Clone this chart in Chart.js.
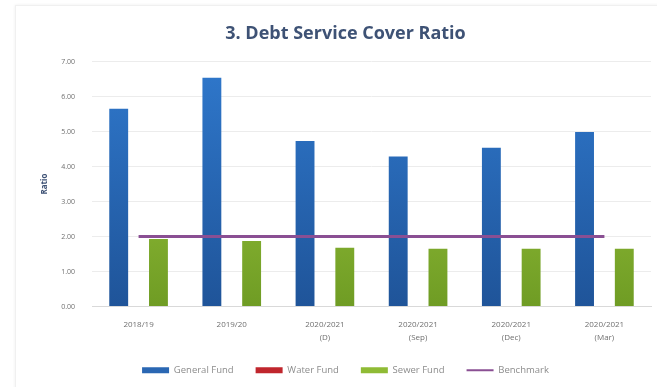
<!DOCTYPE html>
<html lang="en">
<head>
<meta charset="UTF-8">
<title>Debt Service Cover Ratio</title>
<style>
  html, body { margin: 0; padding: 0; background: #fff; }
  .wrap { position: relative; width: 657px; height: 387px; }
  .frame { position: absolute; left: 15px; top: 5px; width: 660px; height: 400px; border: 1px solid #f0f0f0; box-shadow: 0 0 3px #eee; }
  canvas { position: absolute; left: 0; top: 0; }
</style>
</head>
<body>
<div class="wrap">
  <div class="frame"></div>
  <canvas id="myChart" width="657" height="387"></canvas>
</div>
<script src="https://cdn.jsdelivr.net/npm/chart.js"></script>
<script>
// periods on the x axis
const periods = ['2018/19', '2019/20', ['2020/2021', '(D)'], ['2020/2021', '(Sep)'], ['2020/2021', '(Dec)'], ['2020/2021', '(Mar)']];
const generalFund = [5.65, 6.54, 4.73, 4.29, 4.54, 4.99];
const waterFund = [null, null, null, null, null, null];
const sewerFund = [1.93, 1.87, 1.68, 1.65, 1.65, 1.65];
const benchmark = [2, 2, 2, 2, 2, 2];
const yTicks = [0, 1, 2, 3, 4, 5, 6, 7];

function grad(ctx, top, bottom) {
  const c = ctx.chart;
  const a = c.chartArea;
  if (!a) return top;
  const g = c.ctx.createLinearGradient(0, a.top, 0, a.bottom);
  g.addColorStop(0, top);
  g.addColorStop(1, bottom);
  return g;
}

const legendFill = ['#2a67b3', '#c0262d', '#8fbb35'];

const ctx = document.getElementById('myChart');
new Chart(ctx, {
  type: 'bar',
  data: {
    labels: periods,
    datasets: [
      {
        label: 'General Fund',
        data: generalFund,
        backgroundColor: (c) => grad(c, '#2f78cc', '#1f5499'),
        order: 2
      },
      {
        label: 'Water Fund',
        data: waterFund,
        backgroundColor: '#c0262d',
        order: 2
      },
      {
        label: 'Sewer Fund',
        data: sewerFund,
        backgroundColor: (c) => grad(c, '#a6d043', '#6f9c24'),
        order: 2
      },
      {
        type: 'line',
        label: 'Benchmark',
        data: benchmark,
        borderColor: '#8a4f93',
        backgroundColor: '#8a4f93',
        borderWidth: 3,
        pointRadius: 0,
        order: 1
      }
    ]
  },
  options: {
    responsive: false,
    animation: false,
    layout: { padding: { left: 40, right: 6, top: 8, bottom: 2 } },
    datasets: {
      bar: { categoryPercentage: 0.64, barPercentage: 0.95 }
    },
    plugins: {
      title: {
        display: true,
        text: '3. Debt Service Cover Ratio',
        color: '#3e5275',
        font: { family: 'Open Sans', size: 18, weight: 'bold' },
        padding: { top: 15, bottom: 17 }
      },
      legend: {
        position: 'bottom',
        labels: {
          usePointStyle: true,
          pointStyleWidth: 27,
          boxHeight: 6,
          padding: 22,
          color: '#8c8c8c',
          font: { family: 'Open Sans', size: 9.5 },
          sort: (a, b) => a.datasetIndex - b.datasetIndex,
          generateLabels: (chart) => {
            const items = Chart.defaults.plugins.legend.labels.generateLabels(chart);
            items.forEach((it) => {
              const ds = chart.data.datasets[it.datasetIndex];
              if (ds.type === 'line') {
                it.pointStyle = 'line';
                it.strokeStyle = ds.borderColor;
                it.lineWidth = 2;
              } else {
                it.pointStyle = 'rect';
                it.fillStyle = legendFill[it.datasetIndex];
                it.lineWidth = 0;
                it.strokeStyle = 'transparent';
              }
            });
            return items;
          }
        }
      },
      tooltip: { enabled: false }
    },
    scales: {
      x: {
        grid: { display: false },
        border: { color: '#d9d9d9' },
        ticks: {
          color: '#6f6f6f',
          font: { family: 'Open Sans', size: 8, lineHeight: 1.6 },
          maxRotation: 0,
          padding: 4
        },
        afterFit: (s) => { s.height = 37; }
      },
      y: {
        min: 0,
        max: 7,
        afterBuildTicks: (s) => { s.ticks = yTicks.map(v => ({ value: v })); },
        grid: { color: '#ececec', drawTicks: false },
        border: { display: false },
        ticks: {
          color: '#6f6f6f',
          font: { family: 'Open Sans', size: 7 },
          padding: 17,
          callback: (v) => Number(v).toFixed(2)
        },
        title: {
          display: true,
          text: 'Ratio',
          color: '#3e5275',
          font: { family: 'Open Sans', size: 8, weight: 'bold' },
          padding: 0
        },
        afterFit: (s) => { s.width = 52; }
      }
    }
  }
});
</script>
</body>
</html>
